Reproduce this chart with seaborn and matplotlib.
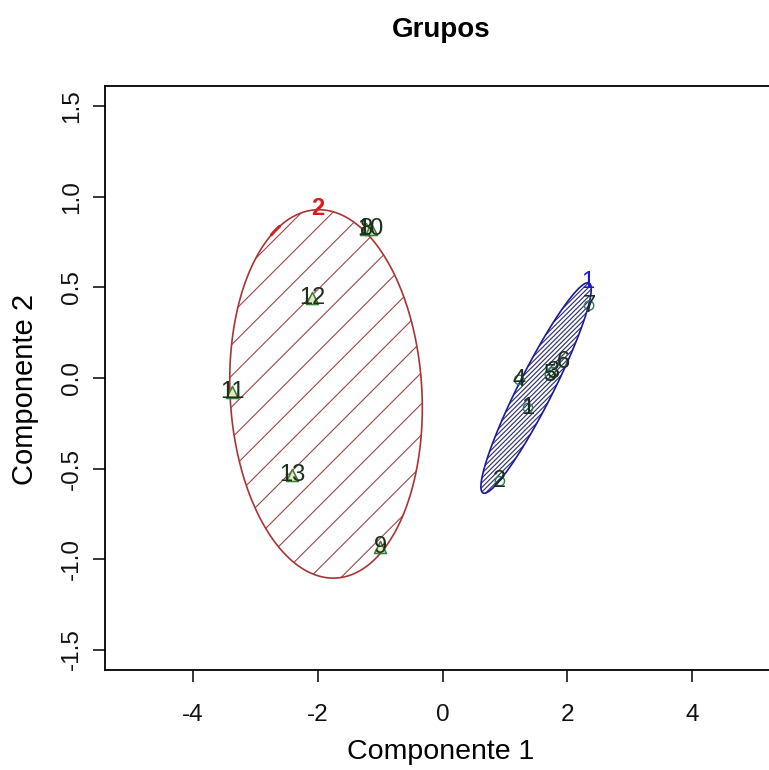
import numpy as np
import pandas as pd
import matplotlib
matplotlib.use("Agg")
import matplotlib.pyplot as plt
import seaborn as sns
from matplotlib.patches import Polygon
from matplotlib.collections import LineCollection

# Observations projected on the first two principal components
obs = [str(i) for i in range(1, 14)]
comp1 = [1.37, 0.92, 1.77, 1.23, 1.72, 1.93, 2.35, -1.22, -1.00, -1.15, -3.37, -2.09, -2.41]
comp2 = [-0.166, -0.57, 0.033, -0.01, 0.017, 0.088, 0.40, 0.823, -0.934, 0.823, -0.077, 0.442, -0.536]
cluster = [1, 1, 1, 1, 1, 1, 1, 2, 2, 2, 2, 2, 2]

# Cluster ellipses: centre plus two conjugate semi-axis vectors
ell_center = {1: (1.50, -0.055), 2: (-1.867, -0.088)}
ell_u = {1: (0.85, 0.58), 2: (-0.16, 1.017)}
ell_v = {1: (0.245, -0.043), 2: (1.535, 0.029)}

xticks = [-4, -2, 0, 2, 4]
yticks = [-1.5, -1.0, -0.5, 0.0, 0.5, 1.0, 1.5]
ytick_labels = ["-1.5", "-1.0", "-0.5", "0.0", "0.5", "1.0", "1.5"]

df = pd.DataFrame({"obs": obs, "comp1": comp1, "comp2": comp2, "cluster": cluster})

sns.set_theme(style="white")
plt.rcParams["font.family"] = ["Liberation Sans", "DejaVu Sans"]
plt.rcParams["text.color"] = "black"

W, H = 769, 770
fig = plt.figure(figsize=(W / 100, H / 100), dpi=100)
ax = fig.add_axes([105 / W, (H - 670) / H, 675 / W, 584 / H])
ax.set_xlim(-5.41, 5.41)
ax.set_ylim(-1.613, 1.613)

border = {1: "#1a1a9c", 2: "#a83434"}
hatch_col = {1: "#34346c", 2: "#9c4646"}
hatch_gap = {1: 3.3, 2: 22.0}   # perpendicular spacing of shading lines, px
hatch_lw = {1: 0.85, 2: 0.8}
label_col = {1: "#1a1acc", 2: "#e01818"}

t = np.linspace(0, 2 * np.pi, 300)
for k in (1, 2):
    c = np.array(ell_center[k]); u = np.array(ell_u[k]); v = np.array(ell_v[k])
    pts = c + np.outer(np.cos(t), u) + np.outer(np.sin(t), v)
    patch = Polygon(pts, closed=True, facecolor="none", edgecolor=border[k], lw=1.2, zorder=2)
    ax.add_patch(patch)

    # 45-degree shading lines in screen space, clipped to the ellipse
    disp = ax.transData.transform(pts)
    d = disp[:, 1] - disp[:, 0]
    step = hatch_gap[k] * np.sqrt(2)
    x0, x1 = disp[:, 0].min() - 5, disp[:, 0].max() + 5
    segs = []
    for off in np.arange(d.min() + step / 2, d.max(), step):
        seg = np.array([[x0, x0 + off], [x1, x1 + off]])
        segs.append(ax.transData.inverted().transform(seg))
    lc = LineCollection(segs, colors=hatch_col[k], linewidths=hatch_lw[k], zorder=1)
    lc.set_clip_path(patch)
    ax.add_collection(lc)

    # cluster number at the top of its ellipse
    top = pts[np.argmax(pts[:, 1])]
    ax.text(top[0], top[1] + 0.005, str(k), color=label_col[k], fontsize=17,
            fontweight="bold" if k == 2 else "normal", ha="center", va="center", zorder=5)

# short emphasised arc on the second ellipse
ts = np.linspace(-0.50, -0.40, 10)
c = np.array(ell_center[2]); u = np.array(ell_u[2]); v = np.array(ell_v[2])
arc = c + np.outer(np.cos(ts), u) + np.outer(np.sin(ts), v)
ax.plot(arc[:, 0], arc[:, 1], color="#d42020", lw=2.2, zorder=3)

# points: circles for cluster 1, triangles for cluster 2
sns.scatterplot(data=df[df.cluster == 1], x="comp1", y="comp2", marker="o", s=45,
                facecolors="none", edgecolor="#2e7a5a", linewidth=1.0, ax=ax, zorder=3, legend=False)
sns.scatterplot(data=df[df.cluster == 2], x="comp1", y="comp2", marker="^", s=75,
                color="#e6e8c0", edgecolor="#3a7d3a", linewidth=1.1, ax=ax, zorder=3, legend=False)

for _, r in df.iterrows():
    ax.text(r.comp1, r.comp2, r.obs, ha="center", va="center", fontsize=17,
            color="#1c2e1c", zorder=4)

ax.set_xticks(xticks)
ax.set_xticklabels([str(x) for x in xticks])
ax.set_yticks(yticks)
ax.set_yticklabels(ytick_labels, rotation=90, va="center")
ax.tick_params(axis="both", direction="out", length=8.6, width=1.1, color="black",
               labelsize=17.5, labelcolor="#111111", bottom=True, left=True)
ax.tick_params(axis="x", pad=16)
ax.tick_params(axis="y", pad=7)
ax.set_xlabel("")
ax.set_ylabel("")
for s in ax.spines.values():
    s.set_color("black")
    s.set_linewidth(1.3)
ax.grid(False)

fig.text(441 / W, 1 - 30 / H, "Grupos", ha="center", va="center", fontsize=20,
         fontweight="bold", color="black")
fig.text(441 / W, 1 - 752 / H, "Componente 1", ha="center", va="center", fontsize=20.5,
         color="black")
fig.text(25 / W, 1 - 389 / H, "Componente 2", ha="center", va="center", fontsize=21,
         rotation=90, color="black")

fig.savefig("out.png", dpi=100, facecolor="white")
